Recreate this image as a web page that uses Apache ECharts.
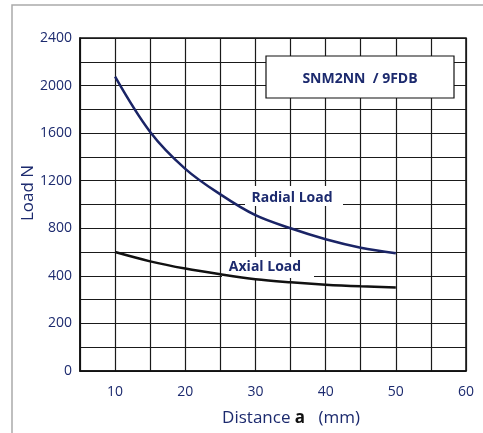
<!DOCTYPE html>
<html>
<head>
<meta charset="utf-8">
<script src="https://cdn.jsdelivr.net/npm/echarts@6/dist/echarts.min.js"></script>
<style>
  html, body { margin: 0; padding: 0; background: #fff; }
  #chart { width: 483px; height: 433px; }
</style>
</head>
<body>
<div id="chart"></div>
<script>
// data
var distance = [10, 15, 20, 25, 30, 35, 40, 45, 50]
var radialLoad = [2075, 1610, 1300, 1085, 910, 800, 708, 637, 590]
var axialLoad = [600, 522, 461, 413, 386, 373, 363, 356, 351]
// y tick labels (axis is not linear: 0-400 in 200 steps, then 400 steps)
var yTicks = ['0', '200', '400', '800', '1200', '1600', '2000', '2400']
var xTicks = [10, 20, 30, 40, 50, 60]

var navy = '#1c2a6e'

// map load value to axis position
function yPos(v) {
  if (v <= 400) return v / 200
  return 2 + (v - 400) / 400
}
function toPairs(xs, ys) {
  return xs.map(function(x, i) { return [x, yPos(ys[i])] })
}

var chart = echarts.init(document.getElementById('chart'))
var option = {
  animation: false,
  textStyle: { fontFamily: 'Open Sans' },
  grid: {
    left: 80, right: 17, top: 38, bottom: 62,
    show: true, borderColor: '#111', borderWidth: 1.5
  },
  xAxis: {
    type: 'value',
    min: 5,
    max: 60,
    interval: 5,
    axisLine: { lineStyle: { color: '#111', width: 1.5 } },
    axisTick: { show: false },
    axisLabel: {
      color: navy, fontSize: 14, margin: 14,
      formatter: function(v) { return xTicks.indexOf(v) >= 0 ? String(v) : '' }
    },
    splitLine: { lineStyle: { color: '#1a1a1a', width: 1.2 } }
  },
  yAxis: {
    type: 'value',
    min: 0,
    max: 7,
    interval: 0.5,
    axisLine: { show: true, lineStyle: { color: '#111', width: 1.5 } },
    axisTick: { show: false },
    axisLabel: {
      color: navy, fontSize: 14, margin: 8,
      formatter: function(v) {
        return Number.isInteger(v) ? yTicks[v] : ''
      }
    },
    splitLine: { lineStyle: { color: '#1a1a1a', width: 1.2 } }
  },
  graphic: [
    // outer frame
    { type: 'polyline', z: 1, shape: { points: [[12, 440], [12, 5], [490, 5]] },
      style: { stroke: '#aaa', lineWidth: 1.5, fill: null } },
    // axis names
    { type: 'text', z: 6, x: 28, y: 193, rotation: Math.PI / 2,
      style: { text: 'Load N', fill: navy, font: '17px "Open Sans"',
        textAlign: 'center', textVerticalAlign: 'middle' } },
    { type: 'text', z: 6, x: 291, y: 418,
      style: { text: '{n|Distance }{b|a}{n|   (mm)}', textAlign: 'center', textVerticalAlign: 'middle',
        rich: {
          n: { fontSize: 17, fill: navy, fontFamily: 'Open Sans' },
          b: { fontSize: 17, fill: '#111', fontWeight: 'bold', fontFamily: 'Open Sans' }
        } } },
    // title box
    { type: 'rect', z: 5, shape: { x: 266, y: 56, width: 188, height: 42 },
      style: { fill: '#fff', stroke: '#111', lineWidth: 1.2 } },
    { type: 'text', z: 6, x: 360, y: 79,
      style: { text: 'SNM2NN  / 9FDB', fill: navy, font: 'bold 14px "Open Sans"',
        textAlign: 'center', textVerticalAlign: 'middle' } },
    // series labels
    { type: 'rect', z: 1, shape: { x: 245, y: 186, width: 98, height: 20 },
      style: { fill: '#fff' } },
    { type: 'text', z: 6, x: 292, y: 198,
      style: { text: 'Radial Load', fill: navy, font: 'bold 14px "Open Sans"',
        textAlign: 'center', textVerticalAlign: 'middle' } },
    { type: 'rect', z: 1, shape: { x: 222, y: 257, width: 92, height: 21 },
      style: { fill: '#fff' } },
    { type: 'text', z: 6, x: 265, y: 267,
      style: { text: 'Axial Load', fill: navy, font: 'bold 14px "Open Sans"',
        textAlign: 'center', textVerticalAlign: 'middle' } }
  ],
  series: [
    {
      name: 'Radial Load',
      type: 'line',
      smooth: 0.35,
      symbol: 'none',
      z: 3,
      lineStyle: { color: '#1a2466', width: 2.5 },
      data: toPairs(distance, radialLoad)
    },
    {
      name: 'Axial Load',
      type: 'line',
      smooth: 0.35,
      symbol: 'none',
      z: 3,
      lineStyle: { color: '#111', width: 2.5 },
      data: toPairs(distance, axialLoad)
    }
  ]
}
chart.setOption(option, true)
</script>
</body>
</html>
